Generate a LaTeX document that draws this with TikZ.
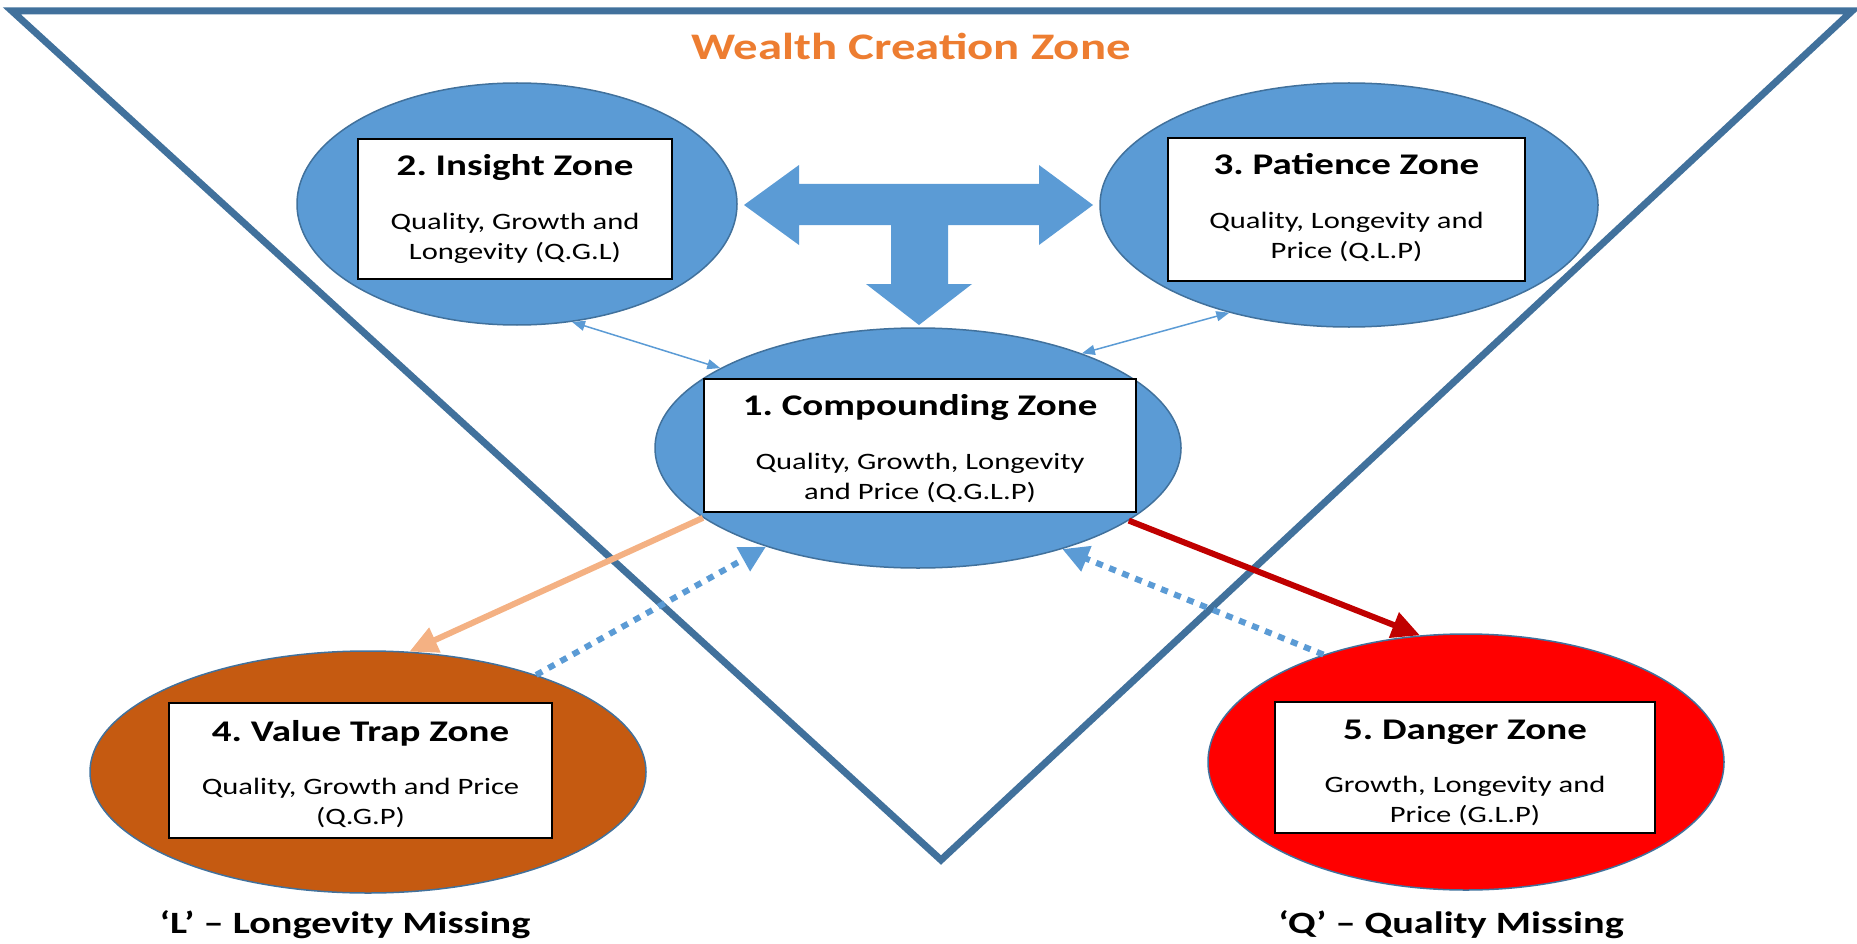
\documentclass[tikz,border=0pt]{standalone}
\usepackage{fontspec}
\setmainfont{Carlito}
\usetikzlibrary{shapes.geometric,arrows.meta,calc}
\definecolor{zblue}{HTML}{5B9BD5}
\definecolor{zedge}{HTML}{41719C}
\definecolor{zbrown}{HTML}{C55A11}
\definecolor{zred}{HTML}{FF0000}
\definecolor{zdark}{HTML}{C00000}
\definecolor{zorange}{HTML}{ED7D31}
\definecolor{zpeach}{HTML}{F4B183}
\frenchspacing
\newcommand{\zhs}[1]{\scalebox{1.3}[1]{#1}}
\newcommand{\zttl}{\fontsize{30pt}{36pt}\selectfont\bfseries}
\newcommand{\zbdy}{\fontsize{23.5pt}{28pt}\selectfont}
\newcommand{\zbig}{\fontsize{37.5pt}{44pt}\selectfont\bfseries}
\newcommand{\zlab}{\fontsize{31pt}{37pt}\selectfont\bfseries}
\begin{document}
\begin{tikzpicture}[x=1pt,y=-1pt,
  zone/.style={ellipse, draw=zedge, line width=1.5pt, inner sep=0pt},
  card/.style={rectangle, draw=black, line width=2pt, fill=white, inner sep=0pt},
  ttlst/.style={anchor=base, inner sep=0pt, font=\zttl},
  bdyst/.style={anchor=base, inner sep=0pt, font=\zbdy},
  thinlink/.style={zblue, line width=1.5pt, {Triangle[length=13pt,width=10pt]}-{Triangle[length=13pt,width=10pt]}},
  dotlink/.style={zblue, line width=6pt, dash pattern=on 7pt off 7pt, -{Triangle[length=26pt,width=26pt]}},
  solidlink/.style={line width=6pt, -{Triangle[length=28pt,width=26pt]}}]
\useasboundingbox (0,0) rectangle (1857,944);

% big triangle
\draw[zedge, line width=7pt, line join=miter] (12,11) -- (1852,11) -- (941,860) -- cycle;

\node[anchor=base, inner sep=0pt, text=zorange, font=\zbig] (wcz) at (911,60) {\zhs{Wealth Creation Zone}};

% zones
\node[zone, fill=zblue, minimum width=440pt, minimum height=242pt] (ins) at (517,204) {};
\node[zone, fill=zblue, minimum width=498pt, minimum height=244pt] (pat) at (1349,205) {};
\node[zone, fill=zblue, minimum width=526pt, minimum height=240pt] (cmp) at (918,448) {};
\node[zone, fill=zbrown, minimum width=556pt, minimum height=242pt] (vtz) at (368,772) {};
\node[zone, fill=zred, minimum width=516pt, minimum height=256pt] (dgz) at (1466,762) {};

% T shaped block arrow
\fill[zblue] (744,205) -- (799,165) -- (799,184) -- (1039,184) -- (1039,165) -- (1093,205)
  -- (1039,245) -- (1039,225) -- (948,225) -- (948,284) -- (972,284) -- (919,325)
  -- (866,284) -- (891,284) -- (891,225) -- (799,225) -- (799,245) -- cycle;

% connectors
\draw[thinlink] (ins.-65) -- (cmp.158);
\draw[thinlink] (pat.-138.5) -- (cmp.30);
\draw[solidlink, zpeach] (cmp.-162) -- (vtz.71.6);
\draw[dotlink] (vtz.30) -- (cmp.-147);
\draw[solidlink, zdark] (cmp.-19.7) -- (dgz.110.4);
\draw[dotlink] (dgz.143.6) -- (cmp.-35.5);

% cards
\node[card, minimum width=314pt, minimum height=140pt] (b2) at (515,209) {};
\node[ttlst] (t2) at ($(b2.north)+(0,38)$) {\zhs{2. Insight Zone}};
\node[bdyst] (l2a) at ($(b2.north)+(0,91.5)$) {\zhs{Quality, Growth and}};
\node[bdyst] (l2b) at ($(b2.north)+(0,121.5)$) {\zhs{Longevity (Q.G.L)}};

\node[card, minimum width=357pt, minimum height=143pt] (b3) at (1346.5,209.5) {};
\node[ttlst] (t3) at ($(b3.north)+(0,38)$) {\zhs{3. Patience Zone}};
\node[bdyst] (l3a) at ($(b3.north)+(0,91.5)$) {\zhs{Quality, Longevity and}};
\node[bdyst] (l3b) at ($(b3.north)+(0,121.5)$) {\zhs{Price (Q.L.P)}};

\node[card, minimum width=432pt, minimum height=133pt] (b1) at (920,445.5) {};
\node[ttlst] (t1) at ($(b1.north)+(0,37)$) {\zhs{1. Compounding Zone}};
\node[bdyst] (l1a) at ($(b1.north)+(0,91)$) {\zhs{Quality, Growth, Longevity}};
\node[bdyst] (l1b) at ($(b1.north)+(0,121)$) {\zhs{and Price (Q.G.L.P)}};

\node[card, minimum width=383pt, minimum height=135pt] (b4) at (360.5,770.5) {};
\node[ttlst] (t4) at ($(b4.north)+(0,39)$) {\zhs{4. Value Trap Zone}};
\node[bdyst] (l4a) at ($(b4.north)+(0,92)$) {\zhs{Quality, Growth and Price}};
\node[bdyst] (l4b) at ($(b4.north)+(0,122.5)$) {\zhs{(Q.G.P)}};

\node[card, minimum width=380pt, minimum height=131pt] (b5) at (1465,767.5) {};
\node[ttlst] (t5) at ($(b5.north)+(0,38)$) {\zhs{5. Danger Zone}};
\node[bdyst] (l5a) at ($(b5.north)+(0,91.5)$) {\zhs{Growth, Longevity and}};
\node[bdyst] (l5b) at ($(b5.north)+(0,121.5)$) {\zhs{Price (G.L.P)}};

% bottom labels
\node[anchor=base, inner sep=0pt, font=\zlab] (lm) at (345,933) {\zhs{‘L’ – Longevity Missing}};
\node[anchor=base, inner sep=0pt, font=\zlab] (qm) at (1451,933) {\zhs{‘Q’ – Quality Missing}};
\end{tikzpicture}
\end{document}
